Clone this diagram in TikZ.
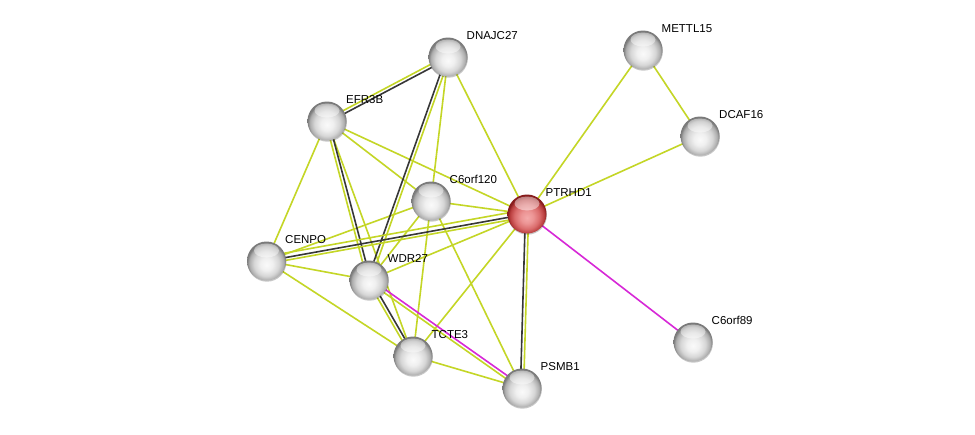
\documentclass[tikz,border=0pt]{standalone}
\usepackage{fontspec}
\setmainfont{Liberation Sans}
\usetikzlibrary{calc,backgrounds,shadows}
\definecolor{tmgreen}{RGB}{196,214,38}
\definecolor{codark}{RGB}{55,55,55}
\definecolor{exmag}{RGB}{215,40,215}
\pgfdeclareradialshading{greyball}{\pgfpoint{0bp}{-5bp}}{color(0bp)=(black!2); color(8bp)=(black!6); color(16bp)=(black!16); color(22bp)=(black!32); color(25bp)=(black!52); color(50bp)=(black!52)}
\pgfdeclareradialshading{redball}{\pgfpoint{0bp}{-5bp}}{color(0bp)=(rgb,255:red,244;green,170;blue,170); color(8bp)=(rgb,255:red,236;green,148;blue,148); color(16bp)=(rgb,255:red,218;green,108;blue,108); color(22bp)=(rgb,255:red,185;green,62;blue,62); color(25bp)=(rgb,255:red,135;green,28;blue,28); color(50bp)=(rgb,255:red,135;green,28;blue,28)}
\newcommand{\edgeoff}[4]{\draw[#1] ($(#2.center)!#4!90:(#3.center)$) -- ($(#3.center)!#4!-90:(#2.center)$);}
\tikzset{
  prot/.style={circle, minimum size=39pt, inner sep=0pt, shading=greyball,
    drop shadow={shadow xshift=0.4pt, shadow yshift=-1.2pt, opacity=0.22, fill=black},
    path picture={\fill[white,opacity=0.45] ($(path picture bounding box.center)+(0,-10.5)$) ellipse (12.5pt and 7pt);}},
  qprot/.style={prot, shading=redball},
  lbl/.style={anchor=west, inner sep=0pt, font=\fontsize{11.5}{13}\selectfont, text=black},
  tm/.style={draw=tmgreen, line width=1.6pt},
  co/.style={draw=codark, line width=1.6pt},
  ex/.style={draw=exmag, line width=1.6pt}
}
\begin{document}
\begin{tikzpicture}[x=1pt,y=-1pt]
\useasboundingbox (0,0) rectangle (975,434);
% nodes
\node[prot]  (DNAJC27)  at (448,57)  {};
\node[prot]  (METTL15)  at (643,50)  {};
\node[prot]  (EFR3B)    at (327,121) {};
\node[prot]  (DCAF16)   at (700,136) {};
\node[prot]  (C6orf120) at (431,201) {};
\node[qprot] (PTRHD1)   at (527,214) {};
\node[prot]  (CENPO)    at (266.5,261) {};
\node[prot]  (WDR27)    at (369,280) {};
\node[prot]  (C6orf89)  at (693,342) {};
\node[prot]  (TCTE3)    at (413,356) {};
\node[prot]  (PSMB1)    at (522,388) {};
% labels
\node[lbl] (lDNAJC27)  at ($(DNAJC27)+(18.5,-21.5)$)  {DNAJC27};
\node[lbl] (lMETTL15)  at ($(METTL15)+(18.5,-21.5)$)  {METTL15};
\node[lbl] (lEFR3B)    at ($(EFR3B)+(19,-21.5)$)      {EFR3B};
\node[lbl] (lDCAF16)   at ($(DCAF16)+(19,-21.5)$)     {DCAF16};
\node[lbl] (lC6orf120) at ($(C6orf120)+(18.5,-21.5)$) {C6orf120};
\node[lbl] (lPTRHD1)   at ($(PTRHD1)+(18.5,-21.5)$)   {PTRHD1};
\node[lbl] (lCENPO)    at ($(CENPO)+(18.5,-21.5)$)    {CENPO};
\node[lbl] (lWDR27)    at ($(WDR27)+(18.5,-21.5)$)    {WDR27};
\node[lbl] (lC6orf89)  at ($(C6orf89)+(18.5,-21.5)$)  {C6orf89};
\node[lbl] (lTCTE3)    at ($(TCTE3)+(18.5,-21.5)$)    {TCTE3};
\node[lbl] (lPSMB1)    at ($(PSMB1)+(18.5,-21.5)$)    {PSMB1};
\begin{pgfonlayer}{background}
\fill[white] (0,0) rectangle (975,434);
% single text-mining edges
\draw[tm] (DNAJC27.center) -- (C6orf120.center);
\draw[tm] (C6orf120.center) -- (TCTE3.center);
\draw[tm] (DNAJC27.center) -- (PTRHD1.center);
\draw[tm] (EFR3B.center) -- (C6orf120.center);
\draw[tm] (EFR3B.center) -- (PTRHD1.center);
\draw[tm] (EFR3B.center) -- (CENPO.center);
\draw[tm] (EFR3B.center) -- (TCTE3.center);
\draw[tm] (C6orf120.center) -- (PTRHD1.center);
\draw[tm] (C6orf120.center) -- (CENPO.center);
\draw[tm] (C6orf120.center) -- (WDR27.center);
\draw[tm] (C6orf120.center) -- (PSMB1.center);
\draw[tm] (WDR27.center) -- (PTRHD1.center);
\draw[tm] (CENPO.center) -- (WDR27.center);
\draw[tm] (CENPO.center) -- (TCTE3.center);
\draw[tm] (TCTE3.center) -- (PTRHD1.center);
\draw[tm] (TCTE3.center) -- (PSMB1.center);
\draw[tm] (PTRHD1.center) -- (METTL15.center);
\draw[tm] (PTRHD1.center) -- (DCAF16.center);
\draw[tm] (METTL15.center) -- (DCAF16.center);
% double edges (coexpression + text mining)
\edgeoff{co}{EFR3B}{DNAJC27}{-1.6pt}
\edgeoff{tm}{EFR3B}{DNAJC27}{1.6pt}
\edgeoff{co}{DNAJC27}{WDR27}{-1.6pt}
\edgeoff{tm}{DNAJC27}{WDR27}{1.6pt}
\edgeoff{co}{EFR3B}{WDR27}{1.6pt}
\edgeoff{tm}{EFR3B}{WDR27}{-1.6pt}
\edgeoff{co}{WDR27}{TCTE3}{1.6pt}
\edgeoff{tm}{WDR27}{TCTE3}{-1.6pt}
\edgeoff{tm}{CENPO}{PTRHD1}{4.5pt}
\edgeoff{co}{CENPO}{PTRHD1}{0pt}
\edgeoff{tm}{CENPO}{PTRHD1}{-2.8pt}
\edgeoff{co}{PTRHD1}{PSMB1}{-1.6pt}
\edgeoff{tm}{PTRHD1}{PSMB1}{1.6pt}
% experiments
\edgeoff{ex}{WDR27}{PSMB1}{1.6pt}
\edgeoff{tm}{WDR27}{PSMB1}{-1.6pt}
\draw[ex] (PTRHD1.center) -- (C6orf89.center);
\end{pgfonlayer}
\end{tikzpicture}
\end{document}
